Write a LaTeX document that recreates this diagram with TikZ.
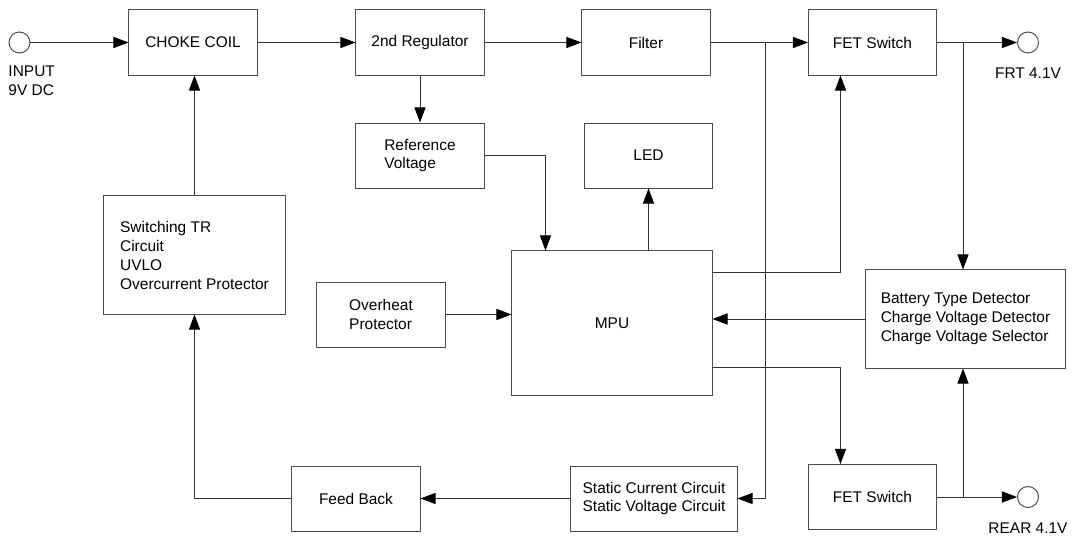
\documentclass[tikz,border=0pt]{standalone}
\usepackage{fontspec}
\setmainfont{Liberation Sans}
\usetikzlibrary{arrows.meta, positioning, calc}

\begin{document}
\begin{tikzpicture}[x=0.025cm, y=-0.025cm, line width=0.7pt,
      font=\fontsize{11}{13.5}\selectfont,
      block/.style={rectangle, draw=black!70, minimum width=3.2cm, minimum height=1.625cm, align=left},
      term/.style={circle, draw=black!70, minimum size=0.525cm, inner sep=0pt},
      link/.style={draw=black!80, -{Triangle[length=0.38cm, width=0.28cm, color=black]}}]

      \useasboundingbox (0,0) rectangle (1074,539);

      % Power path
      \node[block] (choke) at (193,42.5) {CHOKE COIL};
      \node[block] (reg) at (420,42.5) {2nd Regulator};
      \node[block] (filter) at (646,42.5) {Filter};
      \node[block] (fetf) at (872.5,42.5) {FET Switch};

      \node[block] (ref) at (420,155.5) {Reference\\Voltage};
      \node[block] (led) at (648.5,155.5) {LED};
      \node[block, minimum width=4.525cm, minimum height=2.95cm] (swtr) at (194.5,255)
        {Switching TR\\Circuit\\UVLO\\Overcurrent Protector};
      \node[block] (heat) at (381,314.5) {Overheat\\Protector};
      \node[block, minimum width=5cm, minimum height=3.6cm] (mpu) at (612,323) {MPU};
      \node[block, minimum width=4.975cm, minimum height=2.45cm] (batt) at (965.5,319)
        {Battery Type Detector\\Charge Voltage Detector\\Charge Voltage Selector};
      \node[block] (fb) at (356,498.5) {Feed Back};
      \node[block, minimum width=4.15cm] (static) at (654,498.5) {Static Current Circuit\\Static Voltage Circuit};
      \node[block] (fetr) at (872.5,497) {FET Switch};

      % Terminals
      \node[term] (in) at (19.5,42.5) {};
      \node[term] (frt) at (1028,42.5) {};
      \node[term] (rear) at (1028,497) {};
      \node[anchor=north west, inner sep=0pt, align=left] (inlbl) at (8,65) {INPUT\\9V DC};
      \node[below=0.35cm of frt, inner sep=0pt] (frtlbl) {FRT 4.1V};
      \node[below=0.35cm of rear, inner sep=0pt] (rearlbl) {REAR 4.1V};

      \coordinate (tapf) at (765,42.5);
      \coordinate (tapo) at (963,42.5);
      \coordinate (tapr) at (963,497);

      % Arrows
      \draw[link] (in) -- (choke);
      \draw[link] (choke) -- (reg);
      \draw[link] (reg) -- (filter);
      \draw[link] (filter) -- (fetf);
      \draw[link] (fetf) -- (frt);
      \draw[link] (fetr) -- (rear);
      \draw[link] (reg) -- (ref);
      \draw[link] (ref.east) -| ([xshift=0.85cm]mpu.north west);
      \draw[link] (led.south |- mpu.north) -- (led.south);
      \draw[link] ([yshift=-0.55cm]mpu.north east) -| ([xshift=-0.8cm]fetf.south);
      \draw[link] ([yshift=0.7cm]mpu.south east) -| ([xshift=-0.8cm]fetr.north);
      \draw[link] (tapf) |- (static.east);
      \draw[link] (tapo) -- (tapo |- batt.north);
      \draw[link] (tapr) -- (tapr |- batt.south);
      \draw[link] (batt.west) -- (batt.west -| mpu.east);
      \draw[link] (heat) -- (heat -| mpu.west);
      \draw[link] (static) -- (fb);
      \draw[link] (fb.west) -| (swtr.south);
      \draw[link] (swtr.north) -- (swtr.north |- choke.south);
    \end{tikzpicture}
\end{document}
